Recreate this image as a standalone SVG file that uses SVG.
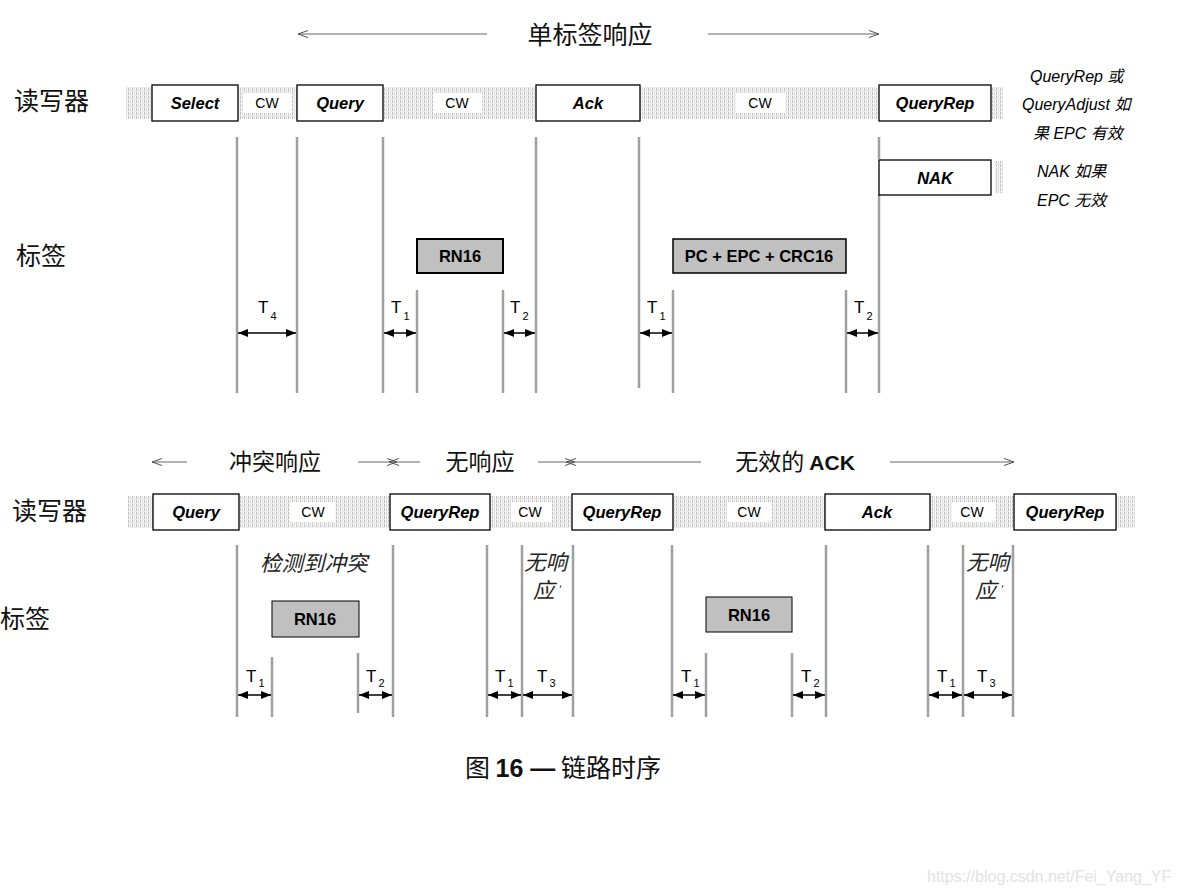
<svg xmlns="http://www.w3.org/2000/svg" width="1180" height="894" viewBox="0 0 1180 894">
<defs>
<pattern id="hatch" width="4" height="4" patternUnits="userSpaceOnUse">
<rect width="4" height="4" fill="#f8f8f8"/>
<line x1="0.5" y1="0" x2="0.5" y2="4" stroke="#c0c0c0" stroke-width="1"/>
<line x1="2.5" y1="0" x2="2.5" y2="4" stroke="#dcdcdc" stroke-width="1"/>
<line x1="0" y1="3.5" x2="4" y2="3.5" stroke="#ececec" stroke-width="1"/>
</pattern>
<marker id="dh" viewBox="0 0 10 8" refX="10" refY="4" markerWidth="10" markerHeight="8" markerUnits="userSpaceOnUse" orient="auto-start-reverse">
<path d="M0,0 L10,4 L0,8 Z" fill="#000"/>
</marker>
<marker id="ch" viewBox="0 0 10 8" refX="10" refY="4" markerWidth="10" markerHeight="8" markerUnits="userSpaceOnUse" orient="auto-start-reverse">
<path d="M0,0.5 L10,4 L0,7.5" fill="none" stroke="#555" stroke-width="1"/>
</marker>
</defs>
<style>
.cjk{font-family:"Noto Sans CJK SC","Liberation Serif",serif;font-size:25px;fill:#111}
.cjk2{font-family:"Noto Sans CJK SC","Liberation Serif",serif;font-size:23px;fill:#111}
.box{fill:#fff;stroke:#000;stroke-width:1.3}
.tbox{fill:#c0c0c0;stroke:#000}
.bl{font-family:"Liberation Sans",Arial,sans-serif;font-size:16.5px;font-weight:bold;font-style:italic;text-anchor:middle;fill:#000}
.cw{font-family:"Liberation Sans",Arial,sans-serif;font-size:14px;text-anchor:middle;fill:#000}
.tl{font-family:"Liberation Sans",Arial,sans-serif;font-size:16.5px;font-weight:bold;text-anchor:middle;fill:#000}
.t{font-family:"Liberation Sans",Arial,sans-serif;font-size:17px;fill:#000}
.sub{font-size:11px}
.note{font-family:"Liberation Sans","Noto Sans CJK SC",Arial,sans-serif;font-size:16px;font-style:italic;fill:#000}
.it{font-family:"Noto Sans CJK SC",sans-serif;font-size:21.5px;font-style:italic;fill:#222}
.vl{stroke:#a0a0a0;stroke-width:2.5;fill:none}
.dim{stroke:#000;stroke-width:1.5;fill:none;marker-start:url(#dh);marker-end:url(#dh)}
.hd{stroke:#666;stroke-width:1;fill:none}
.wh{fill:#fff}
</style>

<!-- headers -->
<g id="header-top">
<text class="cjk" x="590" y="44" text-anchor="middle">单标签响应</text>
</g>
<g id="header-bottom">
<text class="cjk2" x="275" y="470" text-anchor="middle">冲突响应</text>
<text class="cjk2" x="480" y="470" text-anchor="middle">无响应</text>
<text class="cjk2" x="795" y="470" text-anchor="middle">无效的 <tspan font-family="Liberation Sans,Arial,sans-serif" font-weight="bold" font-size="21">ACK</tspan></text>
</g>

<!-- row labels -->
<g id="labels">
<text class="cjk" x="14" y="110">读写器</text>
<text class="cjk" x="16" y="265">标签</text>
<text class="cjk" x="12" y="520">读写器</text>
<text class="cjk" x="0" y="628">标签</text>
</g>

<!-- reader bands -->
<g id="band-top">
<rect x="126" y="87" width="877" height="32" fill="url(#hatch)"/>
<rect x="995" y="161" width="8" height="32" fill="url(#hatch)"/>
<rect class="wh" x="243" y="93" width="49" height="20"/>
<rect class="wh" x="433" y="93" width="49" height="20"/>
<rect class="wh" x="736" y="93" width="49" height="20"/>
<text class="cw" x="267" y="108">CW</text>
<text class="cw" x="457" y="108">CW</text>
<text class="cw" x="760" y="108">CW</text>
</g>
<g id="band-bottom">
<rect x="128" y="496" width="1007" height="32" fill="url(#hatch)"/>
<rect class="wh" x="290" y="502" width="45" height="20"/>
<rect class="wh" x="511" y="502" width="41" height="20"/>
<rect class="wh" x="727" y="502" width="45" height="20"/>
<rect class="wh" x="952" y="502" width="44" height="20"/>
<text class="cw" x="313" y="517">CW</text>
<text class="cw" x="530" y="517">CW</text>
<text class="cw" x="749" y="517">CW</text>
<text class="cw" x="972" y="517">CW</text>
</g>

<!-- connectors: timeline lines, dimension arrows, header arrows -->
<g id="connectors">
<path class="hd" d="M487,34 H298" marker-end="url(#ch)"/>
<path class="hd" d="M708,34 H879" marker-end="url(#ch)"/>
<path class="hd" d="M187,462 H152" marker-end="url(#ch)"/>
<path class="hd" d="M358,462 H397" marker-end="url(#ch)"/>
<path class="hd" d="M420,462 H389" marker-end="url(#ch)"/>
<path class="hd" d="M538,462 H575" marker-end="url(#ch)"/>
<path class="hd" d="M701,462 H566" marker-end="url(#ch)"/>
<path class="hd" d="M890,462 H1014" marker-end="url(#ch)"/>

<path class="vl" d="M237,137V393 M297,137V393 M383,137V393 M417,290V393 M503,290V393 M536,137V393 M639,137V388 M673,290V393 M846,290V393 M879,137V159 M879,194V393"/>
<path class="vl" d="M237,545V717 M272,657V717 M358,653V713 M393,545V717 M487,545V717 M522,545V717 M573,545V717 M672,545V717 M706,653V717 M792,653V717 M826,545V717 M928,545V717 M963,545V717 M1013,545V717"/>

<path class="dim" d="M238,333H296"/>
<path class="dim" d="M384,333H416"/>
<path class="dim" d="M504,333H535"/>
<path class="dim" d="M640,333H672"/>
<path class="dim" d="M847,333H878"/>

<path class="dim" d="M238,695H271"/>
<path class="dim" d="M359,695H392"/>
<path class="dim" d="M488,695H521"/>
<path class="dim" d="M523,695H572"/>
<path class="dim" d="M673,695H705"/>
<path class="dim" d="M793,695H825"/>
<path class="dim" d="M929,695H962"/>
<path class="dim" d="M964,695H1012"/>
</g>

<!-- reader boxes top -->
<g id="select"><rect class="box" x="152" y="85" width="86" height="36"/><text class="bl" x="195" y="109">Select</text></g>
<g id="query1"><rect class="box" x="297" y="85" width="86" height="36"/><text class="bl" x="340" y="109">Query</text></g>
<g id="ack1"><rect class="box" x="536" y="85" width="104" height="36"/><text class="bl" x="588" y="109">Ack</text></g>
<g id="queryrep1"><rect class="box" x="879" y="85" width="112" height="36"/><text class="bl" x="935" y="109">QueryRep</text></g>
<g id="nak"><rect class="box" x="879" y="160" width="112" height="35"/><text class="bl" x="935" y="184">NAK</text></g>

<!-- tag boxes top -->
<g id="rn16-top"><rect class="tbox" x="417" y="239" width="86" height="34" stroke-width="2"/><text class="tl" x="460" y="262">RN16</text></g>
<g id="pcepc"><rect class="tbox" x="673" y="239" width="173" height="34" stroke-width="1.5"/><text class="tl" x="759" y="262">PC + EPC + CRC16</text></g>

<!-- reader boxes bottom -->
<g id="query2"><rect class="box" x="153" y="494" width="86" height="36"/><text class="bl" x="196" y="518">Query</text></g>
<g id="queryrep2"><rect class="box" x="390" y="494" width="100" height="36"/><text class="bl" x="440" y="518">QueryRep</text></g>
<g id="queryrep3"><rect class="box" x="572" y="494" width="101" height="36"/><text class="bl" x="622" y="518">QueryRep</text></g>
<g id="ack2"><rect class="box" x="825" y="494" width="105" height="36"/><text class="bl" x="877" y="518">Ack</text></g>
<g id="queryrep4"><rect class="box" x="1014" y="494" width="102" height="36"/><text class="bl" x="1065" y="518">QueryRep</text></g>

<!-- tag boxes bottom -->
<g id="rn16-b1"><rect class="tbox" x="272" y="601" width="87" height="36" stroke-width="1" stroke="#222"/><text class="tl" x="315" y="625">RN16</text></g>
<g id="rn16-b2"><rect class="tbox" x="706" y="597" width="86" height="35" stroke-width="1" stroke="#222"/><text class="tl" x="749" y="621">RN16</text></g>

<!-- notes -->
<g id="notes">
<text class="note" x="1030" y="82">QueryRep 或</text>
<text class="note" x="1022" y="110">QueryAdjust 如</text>
<text class="note" x="1033" y="139">果 EPC 有效</text>
<text class="note" x="1037" y="177">NAK 如果</text>
<text class="note" x="1037" y="206">EPC 无效</text>
<text class="it" x="260" y="571">检测到冲突</text>
<text class="it" x="524" y="570">无响</text>
<text class="it" x="533" y="598">应<tspan font-size="10" dx="3" dy="-5">'</tspan></text>
<text class="it" x="966" y="570">无响</text>
<text class="it" x="975" y="598">应<tspan font-size="10" dx="3" dy="-5">'</tspan></text>
</g>

<!-- timing labels -->
<g id="tlabels">
<text class="t" x="258" y="313">T<tspan class="sub" dx="2" dy="7">4</tspan></text>
<text class="t" x="391" y="313">T<tspan class="sub" dx="2" dy="7">1</tspan></text>
<text class="t" x="510" y="313">T<tspan class="sub" dx="2" dy="7">2</tspan></text>
<text class="t" x="647" y="313">T<tspan class="sub" dx="2" dy="7">1</tspan></text>
<text class="t" x="854" y="313">T<tspan class="sub" dx="2" dy="7">2</tspan></text>
<text class="t" x="246" y="682">T<tspan class="sub" dx="2" dy="5">1</tspan></text>
<text class="t" x="366" y="682">T<tspan class="sub" dx="2" dy="5">2</tspan></text>
<text class="t" x="495" y="682">T<tspan class="sub" dx="2" dy="5">1</tspan></text>
<text class="t" x="537" y="682">T<tspan class="sub" dx="2" dy="5">3</tspan></text>
<text class="t" x="681" y="682">T<tspan class="sub" dx="2" dy="5">1</tspan></text>
<text class="t" x="801" y="682">T<tspan class="sub" dx="2" dy="5">2</tspan></text>
<text class="t" x="937" y="682">T<tspan class="sub" dx="2" dy="5">1</tspan></text>
<text class="t" x="977" y="682">T<tspan class="sub" dx="2" dy="5">3</tspan></text>
</g>

<!-- caption -->
<g id="caption">
<text class="cjk" x="563" y="777" text-anchor="middle">图 <tspan font-family="Liberation Sans,Arial,sans-serif" font-weight="bold">16 —</tspan> 链路时序</text>
</g>
<text x="927" y="882" font-family="Liberation Sans,Arial,sans-serif" font-size="16" fill="#e2e2e2">https://blog.csdn.net/Fei_Yang_YF</text>
</svg>
